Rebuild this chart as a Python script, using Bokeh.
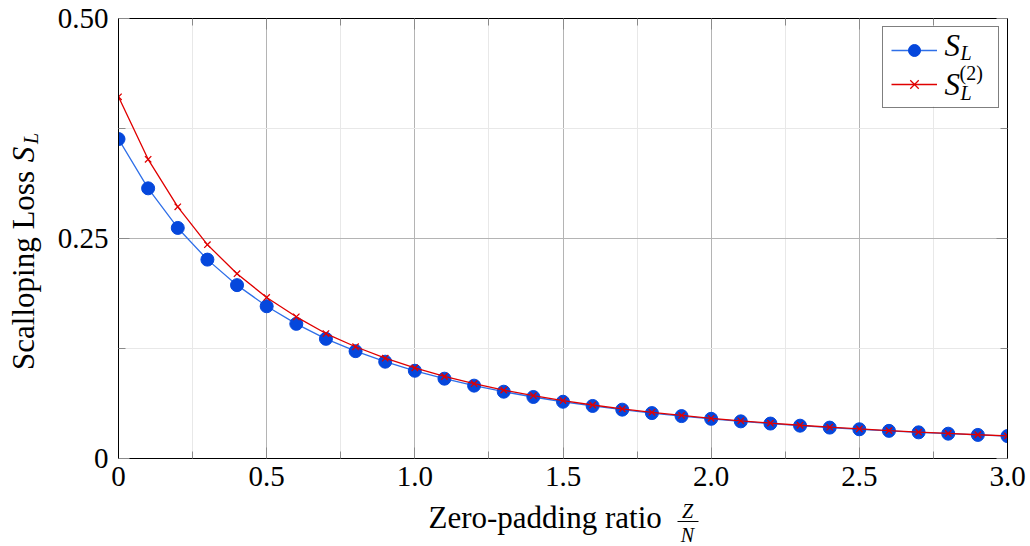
import math
from bokeh.plotting import figure
from bokeh.layouts import column, row
from bokeh.models import (Range1d, FixedTicker, LinearAxis, Label, Legend, LegendItem,
                          PrintfTickFormatter, BoxAnnotation, CustomJSTickFormatter)
from bokeh.embed import file_html
from bokeh.resources import INLINE

# ---- data ----
ratio = [0.0, 0.1, 0.2, 0.3, 0.4, 0.5, 0.6, 0.7, 0.8, 0.9, 1.0,
         1.1, 1.2, 1.3, 1.4, 1.5, 1.6, 1.7, 1.8, 1.9, 2.0,
         2.1, 2.2, 2.3, 2.4, 2.5, 2.6, 2.7, 2.8, 2.9, 3.0]
s_l = [0.363, 0.307, 0.262, 0.226, 0.197, 0.173, 0.153, 0.136, 0.122, 0.110, 0.0997,
       0.0907, 0.0828, 0.0759, 0.0699, 0.0645, 0.0597, 0.0555, 0.0516, 0.0482, 0.0451,
       0.0422, 0.0397, 0.0373, 0.0351, 0.0332, 0.0314, 0.0297, 0.0282, 0.0268, 0.0255]
s_l2 = [0.411, 0.340, 0.286, 0.243, 0.210, 0.183, 0.161, 0.142, 0.127, 0.114, 0.103,
        0.0932, 0.0850, 0.0777, 0.0714, 0.0658, 0.0608, 0.0564, 0.0525, 0.0489, 0.0457,
        0.0428, 0.0402, 0.0378, 0.0356, 0.0336, 0.0317, 0.0300, 0.0285, 0.0270, 0.0257]
x_ticks = [0.0, 0.5, 1.0, 1.5, 2.0, 2.5, 3.0]
x_minor = [0.25, 0.75, 1.25, 1.75, 2.25, 2.75]
y_ticks = [0.0, 0.25, 0.5]
y_minor = [0.125, 0.375]

SERIF = "Liberation Serif"
TICK_FS = "29px"
LAB_FS = "31px"
SUB_FS = "20px"
MID_BIG = 10.5     # baseline -> middle offset for 31px text
MID_SUB = 6.8      # baseline -> middle offset for 20px text

W, H = 1030, 546
STRIP_L = 45          # width of the y-label strip
MAIN_H = 500          # height of the main figure
L, R, T, B = 118, 1007, 18, 458   # frame edges in page pixels

# ---------------- main figure ----------------
p = figure(width=W - STRIP_L, height=MAIN_H, x_range=Range1d(0, 3), y_range=Range1d(0, 0.5),
           output_backend="svg", toolbar_location=None,
           min_border_left=L - STRIP_L, min_border_right=W - R,
           min_border_top=T, min_border_bottom=MAIN_H - B,
           background_fill_color="white", border_fill_color="white")
p.outline_line_color = "black"
p.outline_line_width = 1

xt = FixedTicker(ticks=x_ticks, minor_ticks=x_minor)
yt = FixedTicker(ticks=y_ticks, minor_ticks=y_minor)


def style_axis(ax, show_labels):
    ax.axis_line_color = "black"
    ax.axis_line_width = 1
    ax.major_tick_in = 11
    ax.major_tick_out = 0
    ax.minor_tick_in = 7
    ax.minor_tick_out = 0
    ax.major_tick_line_color = "#8a8a8a"
    ax.minor_tick_line_color = "#8a8a8a"
    if show_labels:
        ax.major_label_text_font = SERIF
        ax.major_label_text_font_size = TICK_FS
        ax.major_label_text_color = "black"
    else:
        ax.formatter = CustomJSTickFormatter(code="return ''")
        ax.major_label_text_font_size = "1px"
        ax.major_label_standoff = 0


p.xaxis.ticker = xt
p.yaxis.ticker = yt
p.xaxis.formatter = PrintfTickFormatter(format="%.1f")
p.yaxis.formatter = PrintfTickFormatter(format="%.2f")
p.xaxis.major_label_overrides = {0: "0"}
p.yaxis.major_label_overrides = {0: "0"}
style_axis(p.xaxis[0], True)
style_axis(p.yaxis[0], True)
p.xaxis.major_label_standoff = 8
p.yaxis.major_label_standoff = 10

top_ax = LinearAxis(ticker=FixedTicker(ticks=x_ticks, minor_ticks=x_minor))
right_ax = LinearAxis(ticker=FixedTicker(ticks=y_ticks, minor_ticks=y_minor))
style_axis(top_ax, False)
style_axis(right_ax, False)
p.add_layout(top_ax, "above")
p.add_layout(right_ax, "right")

p.xgrid.ticker = xt
p.ygrid.ticker = yt
for g in (p.xgrid[0], p.ygrid[0]):
    g.grid_line_color = "#b4b4b4"
    g.grid_line_width = 1
    g.minor_grid_line_color = "#e8e8e8"
    g.minor_grid_line_width = 1

# ---- series ----
blue_line = p.line(ratio, s_l, line_color="#2f6fe8", line_width=1.3)
blue_pts = p.scatter(ratio, s_l, marker="circle", size=13, fill_color="#0547dc",
                     line_color="#0547dc")
red_line = p.line(ratio, s_l2, line_color="#e00000", line_width=1.3)
red_pts = p.scatter(ratio, s_l2, marker="x", size=9, line_color="#e00000", line_width=1.3)


def dx(px):
    return (px - L) / (R - L) * 3.0


def dy(py):
    return (B - py) / (B - T) * 0.5


# white backing for the legend box (legend itself is drawn transparent on top)
p.add_layout(BoxAnnotation(left=dx(884), right=dx(999), top=dy(26), bottom=dy(106),
                           fill_color="white", fill_alpha=1, line_color=None))


def main_lab(text, px, py_mid, size, italic=False):
    p.add_layout(Label(x=dx(px), y=dy(py_mid), text=text, text_font=SERIF,
                       text_font_size=size, text_font_style="italic" if italic else "normal",
                       text_align="left", text_baseline="middle", text_color="black"))


# legend texts (vertical positions are text middles)
main_lab("S", 944, 55 - MID_BIG, LAB_FS, italic=True)
main_lab("L", 960, 59 - MID_SUB, SUB_FS, italic=True)
main_lab("S", 944, 94 - MID_BIG, LAB_FS, italic=True)
main_lab("L", 960, 99 - MID_SUB, SUB_FS, italic=True)
main_lab("(2)", 959, 79 - MID_SUB, SUB_FS)

legend = Legend(items=[LegendItem(label=" ", renderers=[blue_line, blue_pts]),
                       LegendItem(label=" ", renderers=[red_line, red_pts])],
                location="top_right", margin=8, padding=8, spacing=4,
                glyph_width=46, glyph_height=30, label_width=47, label_height=30,
                label_standoff=6, label_text_font_size="10px",
                border_line_color="black", border_line_width=1,
                background_fill_alpha=0)
p.add_layout(legend)

# ---------------- y-label strip (its frame is aligned with the main frame: 18..458) ----------------
ys = figure(width=STRIP_L, height=MAIN_H, x_range=Range1d(0, STRIP_L), y_range=Range1d(B, T),
            x_axis_type=None, y_axis_type=None, output_backend="svg", toolbar_location=None,
            min_border_left=0, min_border_right=0, min_border_top=0, min_border_bottom=0,
            background_fill_color="white", border_fill_color="white")
ys.outline_line_color = None


def strip_lab(fig, text, px, py, size, italic=False, align="center", angle=0.0):
    fig.add_layout(Label(x=px, y=py, text=text, text_font=SERIF, text_font_size=size,
                         text_font_style="italic" if italic else "normal",
                         text_align=align, text_baseline="middle", angle=angle,
                         text_color="black"))


strip_lab(ys, "Scalloping Loss", 33 - MID_BIG, 270, LAB_FS, angle=math.pi / 2)
strip_lab(ys, "S", 33 - MID_BIG, 154, LAB_FS, italic=True, angle=math.pi / 2)
strip_lab(ys, "L", 37 - MID_SUB, 138, SUB_FS, italic=True, angle=math.pi / 2)

# ---------------- x-label strip ----------------
xs = figure(width=W, height=H - MAIN_H, x_range=Range1d(0, W), y_range=Range1d(H, MAIN_H),
            x_axis_type=None, y_axis_type=None, output_backend="svg", toolbar_location=None,
            min_border_left=0, min_border_right=0, min_border_top=0, min_border_bottom=0,
            background_fill_color="white", border_fill_color="white")
xs.outline_line_color = None

strip_lab(xs, "Zero-padding ratio", 428, 527.5 - MID_BIG, LAB_FS, align="left")
strip_lab(xs, "Z", 687, 517 - MID_SUB, SUB_FS, italic=True)
strip_lab(xs, "N", 687, 541 - MID_SUB, SUB_FS, italic=True)
xs.add_layout(BoxAnnotation(left=677, right=698, top=520.5, bottom=521.5,
                            fill_color="black", fill_alpha=1, line_color=None))

layout = column(row(ys, p), xs)
open("out.html", "w").write(file_html(layout, INLINE))
